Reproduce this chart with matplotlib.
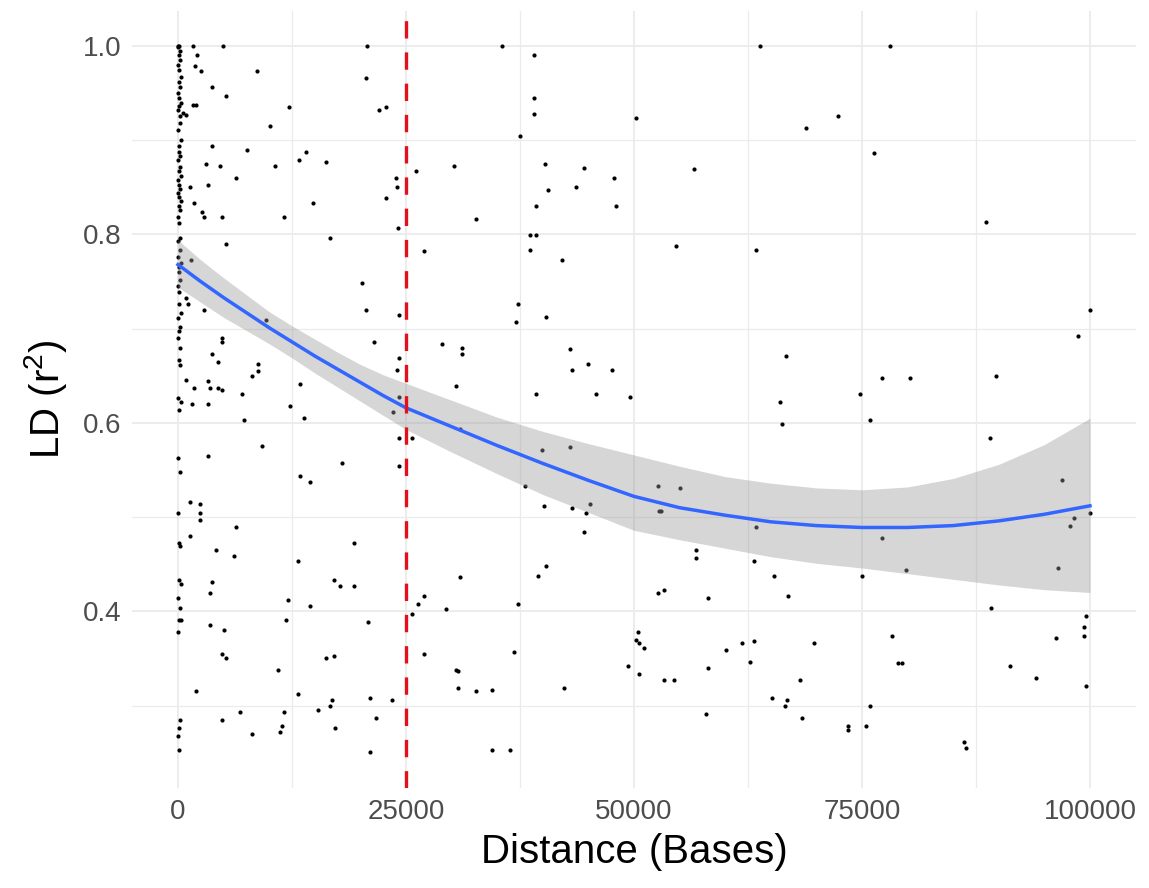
import numpy as np
import matplotlib.pyplot as plt

plt.rcParams['font.family'] = ['Liberation Sans', 'DejaVu Sans']
plt.rcParams['mathtext.fontset'] = 'custom'
plt.rcParams['mathtext.rm'] = 'Liberation Sans'
plt.rcParams['mathtext.it'] = 'Liberation Sans:italic'
plt.rcParams['lines.scale_dashes'] = False

# pairs sitting right at distance ~0
near_zero_dist = [0, 120, 40, 260, 80, 200, 0, 160, 300, 60, 220, 0, 140, 280, 100,
                  20, 240, 180, 0, 320, 60, 140, 260, 0, 200, 80, 300, 40, 160, 240,
                  0, 120, 280, 60, 200, 0, 100, 260, 40, 180, 0, 300, 120, 60, 220,
                  0, 160, 80, 280, 20, 200, 120, 0, 240, 60, 180, 0, 300, 100, 40,
                  220, 0, 140, 260, 60, 300, 0, 180, 80, 320, 0, 240, 100, 0, 160]
near_zero_ld = [1.0, 1.0, 0.999, 0.995, 0.990, 0.985, 0.980, 0.975, 0.967, 0.962,
                0.957, 0.950, 0.945, 0.940, 0.936, 0.932, 0.926, 0.918, 0.911, 0.900,
                0.894, 0.888, 0.883, 0.879, 0.872, 0.867, 0.862, 0.858, 0.853, 0.848,
                0.844, 0.840, 0.835, 0.830, 0.826, 0.818, 0.812, 0.796, 0.793, 0.783,
                0.776, 0.770, 0.765, 0.760, 0.752, 0.745, 0.739, 0.726, 0.717, 0.711,
                0.702, 0.698, 0.690, 0.680, 0.667, 0.661, 0.626, 0.622, 0.614, 0.563,
                0.548, 0.504, 0.472, 0.469, 0.433, 0.429, 0.414, 0.404, 0.391, 0.391,
                0.378, 0.285, 0.276, 0.268, 0.253]

# the rest of the SNP pairs, first 25 kb
dist_a = [1680, 4970, 20760, 2120, 1900, 2560, 8700, 20580, 3690, 5230, 1700, 1970,
          12200, 22070, 22770, 580, 880, 10050, 3690, 7600, 14000, 13300, 16200, 3030,
          4570, 10670, 6320, 23870, 24050, 1280, 3250, 22770, 1720, 14840, 2600, 2820,
          4790, 11590, 24160, 16630, 5230, 1430,
          840, 1060, 2820, 9620, 20140, 20580, 24200, 4790, 4790, 21460, 3690, 4350,
          8740, 8740, 8080, 840, 1720, 3300, 3470, 4350, 4790, 6980, 1500, 3260, 12250,
          13340, 13780, 7200, 24200, 24050, 24200, 23600, 24200, 24200, 9180, 3260,
          17950, 13340, 14440, 1280, 2380, 2380, 2380, 6330, 1280,
          4130, 6110, 19270, 13120, 3690, 3470, 17070, 17730, 19270, 12030, 14440,
          11810, 20800, 3470, 5010, 4790, 5230, 16200, 17070, 10930, 1940, 13120,
          21020, 23430, 16850, 16630, 15320, 6770, 11590, 4790, 21680, 11370, 11150,
          8080, 17270, 21020]
ld_a = [1.0, 1.0, 1.0, 0.990, 0.979, 0.973, 0.973, 0.966, 0.956, 0.947, 0.937, 0.937,
        0.935, 0.932, 0.935, 0.929, 0.927, 0.915, 0.894, 0.890, 0.888, 0.879, 0.877, 0.875,
        0.873, 0.873, 0.860, 0.860, 0.850, 0.850, 0.852, 0.839, 0.833, 0.833, 0.824, 0.818,
        0.818, 0.818, 0.807, 0.796, 0.790, 0.773,
        0.733, 0.726, 0.720, 0.709, 0.748, 0.720, 0.714, 0.690, 0.686, 0.686, 0.673, 0.665,
        0.663, 0.655, 0.650, 0.646, 0.637, 0.644, 0.637, 0.637, 0.635, 0.631, 0.620, 0.620,
        0.618, 0.641, 0.605, 0.603, 0.669, 0.656, 0.627, 0.612, 0.584, 0.554, 0.576, 0.565,
        0.557, 0.544, 0.537, 0.516, 0.514, 0.504, 0.497, 0.489, 0.480,
        0.465, 0.459, 0.472, 0.453, 0.431, 0.419, 0.433, 0.427, 0.427, 0.412, 0.406,
        0.391, 0.389, 0.385, 0.380, 0.355, 0.351, 0.351, 0.353, 0.338, 0.315, 0.312,
        0.308, 0.306, 0.306, 0.300, 0.295, 0.293, 0.293, 0.285, 0.287, 0.278, 0.272,
        0.270, 0.276, 0.251]

# 25 kb - 50 kb
dist_b = [35490, 39000, 39000, 39000, 50190, 37470, 30230, 26060, 40300, 44490, 47770,
          40540, 43610, 39220, 48000, 32640, 38560, 39220, 38560, 26940, 42070,
          37250, 37030, 40320, 28910, 31110, 31110, 30450, 42950, 43170, 44920, 47560,
          39220, 45800, 49530, 30890, 25620, 39880, 42950, 38100, 40100, 43170, 45140,
          44700, 44490,
          40320, 39440, 30890, 26940, 26280, 25620, 29350, 37250, 26940, 36810, 30500,
          30700, 30670, 32640, 34380, 42290, 34380, 36360, 50410, 50190, 50510, 49310,
          50510]
ld_b = [1.0, 0.990, 0.945, 0.928, 0.924, 0.905, 0.873, 0.867, 0.875, 0.871, 0.860,
        0.847, 0.850, 0.830, 0.830, 0.816, 0.799, 0.799, 0.784, 0.782, 0.773,
        0.726, 0.707, 0.712, 0.684, 0.680, 0.673, 0.639, 0.678, 0.656, 0.663, 0.656,
        0.631, 0.631, 0.627, 0.593, 0.584, 0.571, 0.574, 0.533, 0.512, 0.510, 0.514,
        0.504, 0.484,
        0.448, 0.438, 0.436, 0.416, 0.408, 0.397, 0.402, 0.408, 0.355, 0.357, 0.338,
        0.337, 0.319, 0.315, 0.317, 0.319, 0.253, 0.253, 0.378, 0.370, 0.366, 0.342,
        0.334]

# beyond 50 kb
dist_c = [63780, 72330, 68820, 76280, 56550, 54570, 63340, 78040, 88560,
          66630, 65970, 66200, 74750, 75840, 52600, 55010, 52700, 52950, 63340,
          99970, 98650, 77160, 80230, 89660, 89000, 96900, 98210, 97770, 100000,
          56770, 56770, 63130, 65320, 74970, 52600, 53260, 58080, 66850, 51060, 60050,
          61810, 63130, 62690, 69700, 58080, 53260, 54350, 68170, 65100, 66830, 66600,
          57860, 68380, 75840, 73430, 73430, 75410,
          77160, 79790, 96460, 89200, 99530, 99310, 99310, 96240, 78260, 78920, 79350,
          91190, 94050, 99530, 86150, 86370]
ld_c = [1.0, 0.926, 0.913, 0.886, 0.869, 0.788, 0.784, 1.0, 0.813,
        0.671, 0.622, 0.599, 0.631, 0.603, 0.533, 0.531, 0.506, 0.506, 0.489,
        0.720, 0.692, 0.648, 0.648, 0.650, 0.584, 0.539, 0.499, 0.491, 0.504,
        0.465, 0.457, 0.453, 0.438, 0.438, 0.419, 0.423, 0.414, 0.416, 0.361, 0.359,
        0.366, 0.368, 0.346, 0.366, 0.340, 0.327, 0.327, 0.327, 0.308, 0.306, 0.300,
        0.291, 0.287, 0.300, 0.278, 0.274, 0.278,
        0.478, 0.444, 0.446, 0.404, 0.395, 0.383, 0.374, 0.372, 0.374, 0.345, 0.345,
        0.342, 0.329, 0.321, 0.261, 0.255]

# smoothed trend with its confidence band
smooth_x = [0, 2500, 5000, 7500, 10000, 12500, 15000, 17500, 20000, 22500, 25000,
            30000, 35000, 40000, 45000, 50000, 55000, 60000, 65000, 70000, 75000,
            80000, 85000, 90000, 95000, 100000]
smooth_y = [0.768, 0.750, 0.733, 0.717, 0.701, 0.686, 0.671, 0.657, 0.643, 0.629, 0.616,
            0.596, 0.576, 0.557, 0.539, 0.522, 0.510, 0.502, 0.495, 0.491, 0.489,
            0.489, 0.491, 0.496, 0.503, 0.512]
smooth_hi = [0.794, 0.773, 0.754, 0.736, 0.718, 0.703, 0.689, 0.675, 0.662, 0.651, 0.642,
             0.624, 0.606, 0.591, 0.578, 0.566, 0.554, 0.543, 0.536, 0.531, 0.529,
             0.532, 0.541, 0.556, 0.577, 0.605]
smooth_lo = [0.744, 0.728, 0.712, 0.698, 0.684, 0.669, 0.653, 0.638, 0.623, 0.608, 0.593,
             0.569, 0.546, 0.524, 0.505, 0.486, 0.476, 0.467, 0.458, 0.451, 0.446,
             0.440, 0.434, 0.428, 0.423, 0.420]

cutoff = 25000

dist = near_zero_dist + dist_a + dist_b + dist_c
ld = near_zero_ld + ld_a + ld_b + ld_c

fig = plt.figure(figsize=(11.49, 8.88), dpi=100)
ax = fig.add_axes([0.1152, 0.1126, 0.8731, 0.8754])

ax.scatter(dist, ld, s=9, color='black', linewidths=0, zorder=2)
ax.fill_between(smooth_x, smooth_lo, smooth_hi, color='#999999', alpha=0.4,
                linewidth=0, zorder=3)
ax.plot(smooth_x, smooth_y, color='#3366FF', linewidth=2.5, zorder=4)
ax.axvline(cutoff, color='#E3101C', linewidth=2.4, dashes=(12.5, 10), zorder=5)

ax.set_xlim(-5000, 105000)
ax.set_ylim(0.2125, 1.0375)
ax.set_xticks([0, 25000, 50000, 75000, 100000])
ax.set_xticklabels(['0', '25000', '50000', '75000', '100000'])
ax.set_xticks([12500, 37500, 62500, 87500], minor=True)
ax.set_yticks([0.4, 0.6, 0.8, 1.0])
ax.set_yticklabels(['0.4', '0.6', '0.8', '1.0'])
ax.set_yticks([0.3, 0.5, 0.7, 0.9], minor=True)

ax.grid(which='major', color='#EBEBEB', linewidth=1.3)
ax.grid(which='minor', color='#EBEBEB', linewidth=0.9)
ax.set_axisbelow(True)
for s in ax.spines.values():
    s.set_visible(False)
ax.tick_params(which='both', length=0, labelsize=20, labelcolor='#4D4D4D', pad=8)

ax.set_xlabel('Distance (Bases)', fontsize=29, labelpad=6)
ax.set_ylabel('LD (r$^2$)', fontsize=29, labelpad=10)

fig.savefig('out.png', dpi=100)
